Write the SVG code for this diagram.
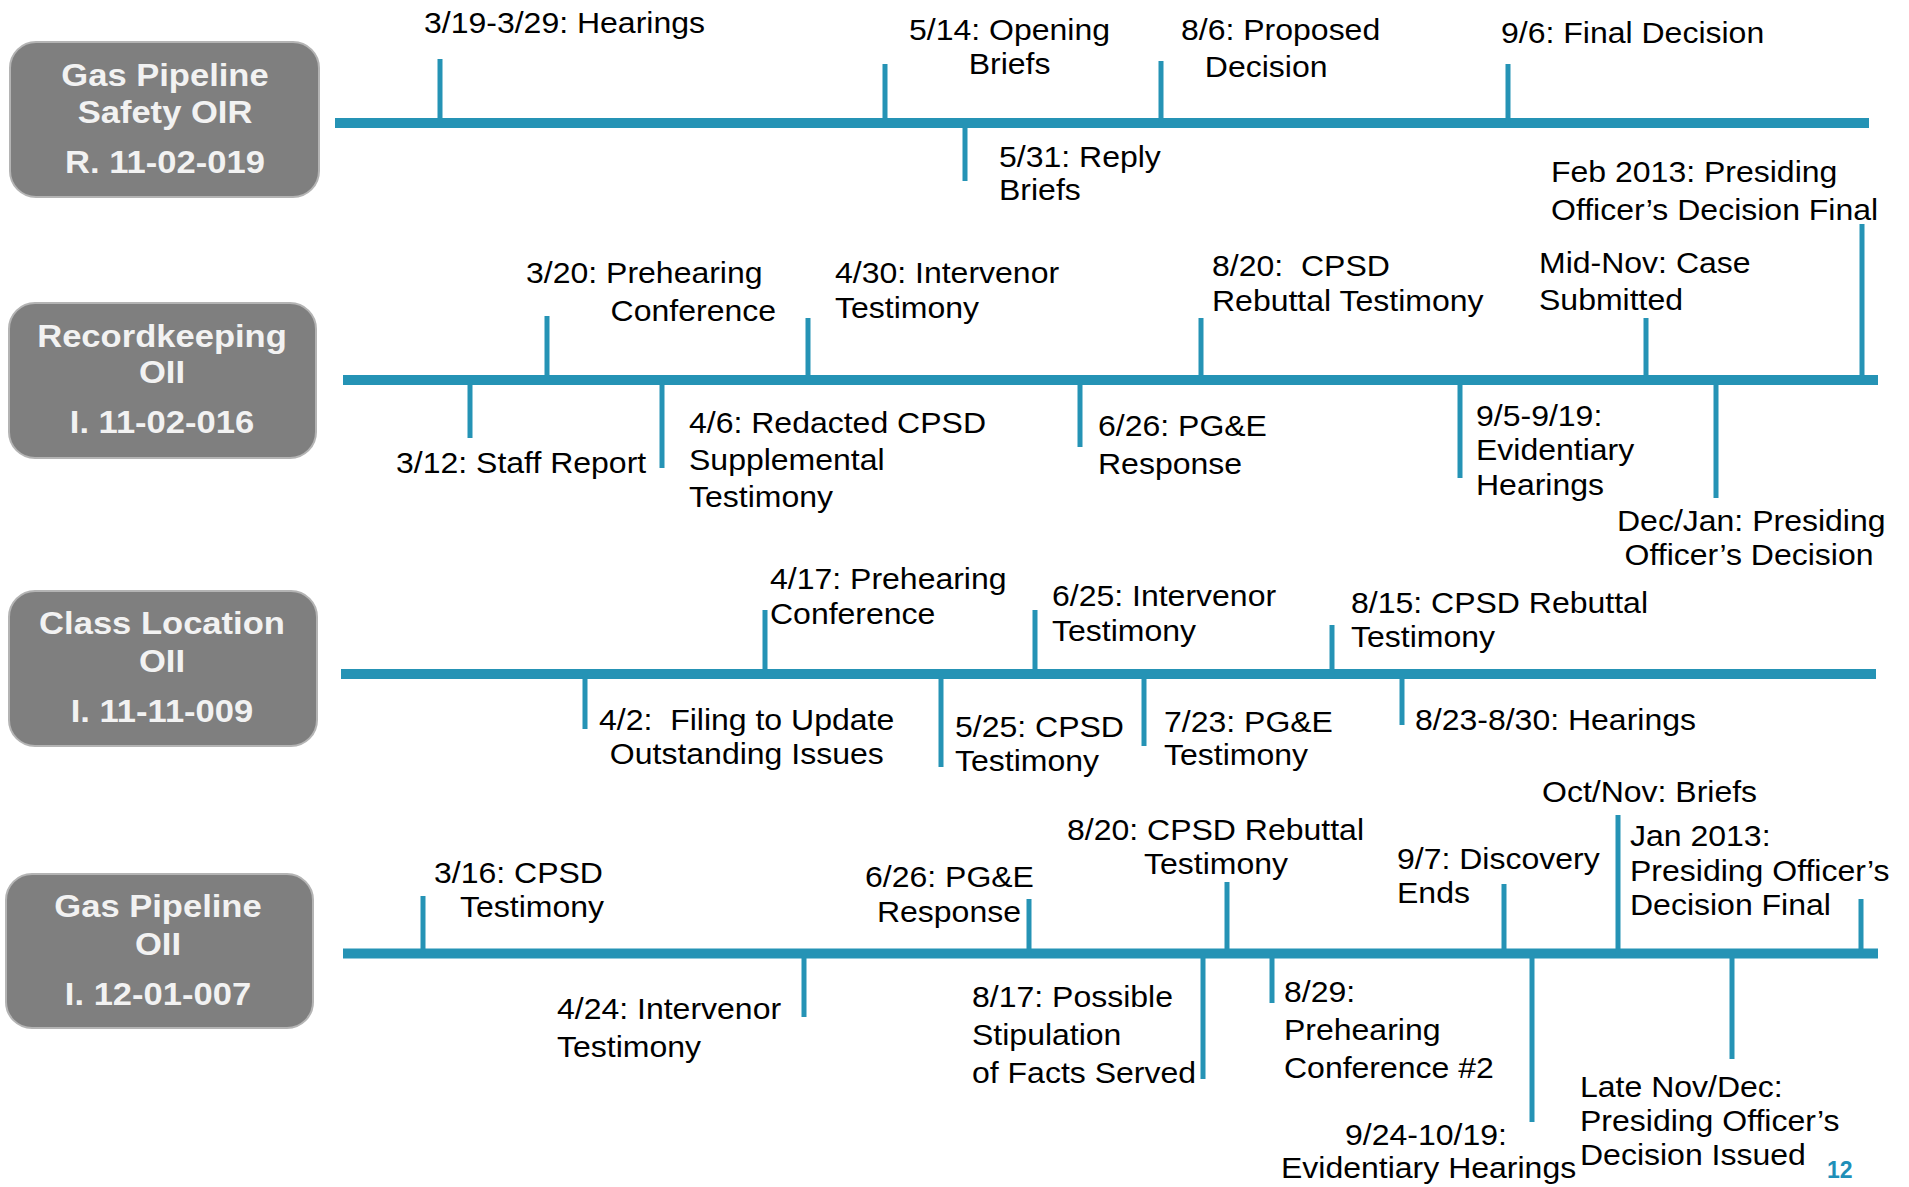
<svg xmlns="http://www.w3.org/2000/svg" width="1909" height="1187" viewBox="0 0 1909 1187">
<style>
.box{fill:#7f7f7f;stroke:#b4b4b4;stroke-width:2}
.bt{font-family:"Liberation Sans",Arial,sans-serif;font-weight:bold;font-size:32px;fill:#f2f2f2;text-anchor:middle}
.lb{font-family:"Liberation Sans",Arial,sans-serif;font-size:29.5px;fill:#000}
.tl{stroke:#2593b5;stroke-width:10;fill:none}
.tk{stroke:#2593b5;stroke-width:5;fill:none}
.pg{font-family:"Liberation Sans",Arial,sans-serif;font-weight:bold;font-size:23px;fill:#1f8fb8}
</style>
<rect width="1909" height="1187" fill="#fff"/>
<g id="connectors">
<line class="tl" x1="335" y1="123" x2="1869" y2="123"/>
<line class="tl" x1="343" y1="380" x2="1878" y2="380"/>
<line class="tl" x1="341" y1="674" x2="1876" y2="674"/>
<line class="tl" x1="343" y1="953.5" x2="1878" y2="953.5"/>
<path class="tk" d="M440 59V123M885 64V123M1161 61V123M1508 64V123M965 123V181"/>
<path class="tk" d="M547 316V380M808 318V380M1201 318V380M1646 318V380M1862 224V380M470 380V438M662 380V468M1080 380V447M1460 380V478M1716 380V498"/>
<path class="tk" d="M765 610V674M1035 610V674M1332 625V674M585 674V729M941 674V767M1144 674V746M1402 674V725"/>
<path class="tk" d="M423 896V953M1029 899V953M1227 882V953M1504 884V953M1618 815V953M1861 899V953M804 953V1017M1203 953V1079M1272 953V1003M1532 953V1122M1732 953V1059"/>
</g>
<g id="node-gas-pipeline-safety-oir">
<rect class="box" x="10" y="42" width="309" height="155" rx="26"/>
<text class="bt" transform="translate(165 0) scale(1.08 1)"><tspan x="0" y="86">Gas Pipeline</tspan><tspan x="0" y="123">Safety OIR</tspan><tspan x="0" y="173">R. 11-02-019</tspan></text>
</g>
<g id="node-recordkeeping-oii">
<rect class="box" x="9" y="303" width="307" height="155" rx="26"/>
<text class="bt" transform="translate(162 0) scale(1.08 1)"><tspan x="0" y="347">Recordkeeping</tspan><tspan x="0" y="383">OII</tspan><tspan x="0" y="433">I. 11-02-016</tspan></text>
</g>
<g id="node-class-location-oii">
<rect class="box" x="9" y="591" width="308" height="155" rx="26"/>
<text class="bt" transform="translate(162 0) scale(1.08 1)"><tspan x="0" y="634">Class Location</tspan><tspan x="0" y="672">OII</tspan><tspan x="0" y="722">I. 11-11-009</tspan></text>
</g>
<g id="node-gas-pipeline-oii">
<rect class="box" x="6" y="874" width="307" height="154" rx="26"/>
<text class="bt" transform="translate(158 0) scale(1.08 1)"><tspan x="0" y="917">Gas Pipeline</tspan><tspan x="0" y="955">OII</tspan><tspan x="0" y="1005">I. 12-01-007</tspan></text>
</g>
<g id="labels-row1">
<text class="lb" transform="translate(424 0) scale(1.085 1)"><tspan x="0" y="33">3/19-3/29: Hearings</tspan></text>
<text class="lb" transform="translate(909 0) scale(1.085 1)"><tspan x="0" y="40">5/14: Opening</tspan><tspan x="55" y="74">Briefs</tspan></text>
<text class="lb" transform="translate(1181 0) scale(1.085 1)"><tspan x="0" y="40">8/6: Proposed</tspan><tspan x="22" y="77">Decision</tspan></text>
<text class="lb" transform="translate(1501 0) scale(1.085 1)"><tspan x="0" y="43">9/6: Final Decision</tspan></text>
<text class="lb" transform="translate(999 0) scale(1.085 1)"><tspan x="0" y="167">5/31: Reply</tspan><tspan x="0" y="200">Briefs</tspan></text>
<text class="lb" transform="translate(1551 0) scale(1.085 1)"><tspan x="0" y="182">Feb 2013: Presiding</tspan><tspan x="0" y="220">Officer’s Decision Final</tspan></text>
</g>
<g id="labels-row2">
<text class="lb" transform="translate(526 0) scale(1.085 1)"><tspan x="0" y="283">3/20: Prehearing</tspan><tspan x="78" y="321">Conference</tspan></text>
<text class="lb" transform="translate(835 0) scale(1.085 1)"><tspan x="0" y="283">4/30: Intervenor</tspan><tspan x="0" y="318">Testimony</tspan></text>
<text class="lb" transform="translate(1212 0) scale(1.085 1)" xml:space="preserve"><tspan x="0" y="276">8/20:  CPSD</tspan><tspan x="0" y="311">Rebuttal Testimony</tspan></text>
<text class="lb" transform="translate(1539 0) scale(1.085 1)"><tspan x="0" y="273">Mid-Nov: Case</tspan><tspan x="0" y="310">Submitted</tspan></text>
<text class="lb" transform="translate(396 0) scale(1.085 1)"><tspan x="0" y="473">3/12: Staff Report</tspan></text>
<text class="lb" transform="translate(689 0) scale(1.085 1)"><tspan x="0" y="433">4/6: Redacted CPSD</tspan><tspan x="0" y="470">Supplemental</tspan><tspan x="0" y="507">Testimony</tspan></text>
<text class="lb" transform="translate(1098 0) scale(1.085 1)"><tspan x="0" y="436">6/26: PG&amp;E</tspan><tspan x="0" y="474">Response</tspan></text>
<text class="lb" transform="translate(1476 0) scale(1.085 1)"><tspan x="0" y="426">9/5-9/19:</tspan><tspan x="0" y="460">Evidentiary</tspan><tspan x="0" y="495">Hearings</tspan></text>
<text class="lb" transform="translate(1617 0) scale(1.085 1)"><tspan x="0" y="531">Dec/Jan: Presiding</tspan><tspan x="7" y="565">Officer’s Decision</tspan></text>
</g>
<g id="labels-row3">
<text class="lb" transform="translate(770 0) scale(1.085 1)"><tspan x="0" y="589">4/17: Prehearing</tspan><tspan x="0" y="624">Conference</tspan></text>
<text class="lb" transform="translate(1052 0) scale(1.085 1)"><tspan x="0" y="606">6/25: Intervenor</tspan><tspan x="0" y="641">Testimony</tspan></text>
<text class="lb" transform="translate(1351 0) scale(1.085 1)"><tspan x="0" y="613">8/15: CPSD Rebuttal</tspan><tspan x="0" y="647">Testimony</tspan></text>
<text class="lb" transform="translate(599 0) scale(1.085 1)" xml:space="preserve"><tspan x="0" y="730">4/2:  Filing to Update</tspan><tspan x="10" y="764">Outstanding Issues</tspan></text>
<text class="lb" transform="translate(955 0) scale(1.085 1)"><tspan x="0" y="737">5/25: CPSD</tspan><tspan x="0" y="771">Testimony</tspan></text>
<text class="lb" transform="translate(1164 0) scale(1.085 1)"><tspan x="0" y="732">7/23: PG&amp;E</tspan><tspan x="0" y="765">Testimony</tspan></text>
<text class="lb" transform="translate(1415 0) scale(1.085 1)"><tspan x="0" y="730">8/23-8/30: Hearings</tspan></text>
</g>
<g id="labels-row4">
<text class="lb" transform="translate(434 0) scale(1.085 1)"><tspan x="0" y="883">3/16: CPSD</tspan><tspan x="24" y="917">Testimony</tspan></text>
<text class="lb" transform="translate(865 0) scale(1.085 1)"><tspan x="0" y="887">6/26: PG&amp;E</tspan><tspan x="11" y="922">Response</tspan></text>
<text class="lb" transform="translate(1067 0) scale(1.085 1)"><tspan x="0" y="840">8/20: CPSD Rebuttal</tspan><tspan x="71" y="874">Testimony</tspan></text>
<text class="lb" transform="translate(1397 0) scale(1.085 1)"><tspan x="0" y="869">9/7: Discovery</tspan><tspan x="0" y="903">Ends</tspan></text>
<text class="lb" transform="translate(1542 0) scale(1.085 1)"><tspan x="0" y="802">Oct/Nov: Briefs</tspan></text>
<text class="lb" transform="translate(1630 0) scale(1.085 1)"><tspan x="0" y="846">Jan 2013:</tspan><tspan x="0" y="881">Presiding Officer’s</tspan><tspan x="0" y="915">Decision Final</tspan></text>
<text class="lb" transform="translate(557 0) scale(1.085 1)"><tspan x="0" y="1019">4/24: Intervenor</tspan><tspan x="0" y="1057">Testimony</tspan></text>
<text class="lb" transform="translate(972 0) scale(1.085 1)"><tspan x="0" y="1007">8/17: Possible</tspan><tspan x="0" y="1045">Stipulation</tspan><tspan x="0" y="1083">of Facts Served</tspan></text>
<text class="lb" transform="translate(1284 0) scale(1.085 1)"><tspan x="0" y="1002">8/29:</tspan><tspan x="0" y="1040">Prehearing</tspan><tspan x="0" y="1078">Conference #2</tspan></text>
<text class="lb" transform="translate(1345 0) scale(1.085 1)"><tspan x="0" y="1145">9/24-10/19:</tspan><tspan x="-59" y="1178">Evidentiary Hearings</tspan></text>
<text class="lb" transform="translate(1580 0) scale(1.085 1)"><tspan x="0" y="1097">Late Nov/Dec:</tspan><tspan x="0" y="1131">Presiding Officer’s</tspan><tspan x="0" y="1165">Decision Issued</tspan></text>
</g>
<text class="pg" x="1827" y="1178">12</text>
</svg>
